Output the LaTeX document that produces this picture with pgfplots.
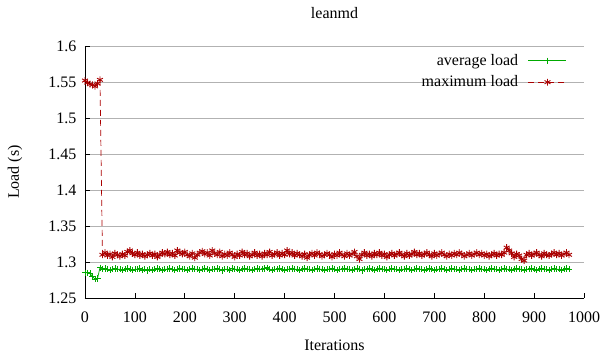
\documentclass[border=0pt]{standalone}
\usepackage{pgfplots}
\pgfplotsset{compat=1.18}
\usepackage{pgfplotstable}
\usetikzlibrary{calc}
\usepackage{fontspec}
\setmainfont{Liberation Serif}
\definecolor{gpgreen}{RGB}{0,170,0}
\definecolor{gpred}{RGB}{170,0,0}
\pgfplotstableread{
x avg max
0 1.285 1.552
5 1.285 1.549
10 1.284 1.547
15 1.280 1.546
20 1.276 1.544
25 1.277 1.548
30 1.292 1.553
35 1.290 1.310
40 1.291 1.313
45 1.290 1.309
50 1.289 1.311
55 1.290 1.307
60 1.291 1.312
65 1.290 1.310
70 1.290 1.308
75 1.289 1.311
80 1.290 1.309
85 1.291 1.314
90 1.290 1.316
95 1.289 1.312
100 1.290 1.310
105 1.290 1.313
110 1.291 1.309
115 1.289 1.311
120 1.290 1.308
125 1.288 1.310
130 1.290 1.312
135 1.289 1.309
140 1.290 1.311
145 1.291 1.307
150 1.290 1.310
155 1.289 1.313
160 1.290 1.311
165 1.290 1.314
170 1.291 1.310
175 1.290 1.312
180 1.289 1.309
185 1.290 1.316
190 1.291 1.313
195 1.290 1.311
200 1.290 1.314
205 1.289 1.310
210 1.290 1.308
215 1.291 1.312
220 1.290 1.306
225 1.290 1.310
230 1.289 1.313
235 1.290 1.315
240 1.291 1.311
245 1.290 1.313
250 1.289 1.309
255 1.290 1.316
260 1.290 1.312
265 1.291 1.310
270 1.290 1.314
275 1.288 1.308
280 1.290 1.311
285 1.290 1.309
290 1.289 1.313
295 1.291 1.310
300 1.290 1.307
305 1.290 1.311
310 1.289 1.309
315 1.290 1.314
320 1.291 1.310
325 1.290 1.312
330 1.290 1.308
335 1.289 1.310
340 1.290 1.313
345 1.291 1.309
350 1.290 1.311
355 1.290 1.308
360 1.291 1.312
365 1.292 1.310
370 1.290 1.314
375 1.289 1.309
380 1.290 1.311
385 1.290 1.313
390 1.291 1.309
395 1.290 1.312
400 1.289 1.310
405 1.290 1.316
410 1.290 1.311
415 1.291 1.313
420 1.290 1.309
425 1.290 1.312
430 1.289 1.310
435 1.290 1.308
440 1.291 1.311
445 1.290 1.306
450 1.290 1.310
455 1.289 1.312
460 1.290 1.309
465 1.291 1.313
470 1.290 1.311
475 1.290 1.308
480 1.289 1.310
485 1.290 1.312
490 1.290 1.310
495 1.291 1.307
500 1.290 1.311
505 1.289 1.309
510 1.290 1.313
515 1.290 1.310
520 1.291 1.308
525 1.290 1.312
530 1.290 1.309
535 1.289 1.311
540 1.290 1.314
545 1.291 1.308
550 1.290 1.304
555 1.288 1.310
560 1.290 1.313
565 1.290 1.309
570 1.291 1.311
575 1.290 1.308
580 1.289 1.312
585 1.290 1.310
590 1.291 1.313
595 1.290 1.309
600 1.290 1.311
605 1.289 1.307
610 1.290 1.310
615 1.291 1.312
620 1.290 1.309
625 1.290 1.311
630 1.289 1.313
635 1.290 1.310
640 1.290 1.308
645 1.291 1.312
650 1.290 1.309
655 1.289 1.311
660 1.290 1.314
665 1.291 1.310
670 1.290 1.312
675 1.290 1.309
680 1.289 1.311
685 1.290 1.313
690 1.291 1.310
695 1.290 1.308
700 1.289 1.312
705 1.290 1.309
710 1.290 1.311
715 1.291 1.313
720 1.290 1.310
725 1.289 1.308
730 1.290 1.311
735 1.291 1.309
740 1.290 1.312
745 1.290 1.310
750 1.289 1.313
755 1.290 1.311
760 1.291 1.308
765 1.290 1.310
770 1.290 1.312
775 1.289 1.309
780 1.290 1.311
785 1.290 1.313
790 1.291 1.310
795 1.290 1.312
800 1.290 1.309
805 1.289 1.311
810 1.290 1.308
815 1.291 1.310
820 1.290 1.312
825 1.290 1.309
830 1.289 1.311
835 1.290 1.310
840 1.291 1.313
845 1.290 1.320
850 1.290 1.316
855 1.289 1.312
860 1.290 1.307
865 1.291 1.311
870 1.290 1.309
875 1.290 1.304
880 1.289 1.302
885 1.290 1.310
890 1.290 1.312
895 1.291 1.309
900 1.290 1.311
905 1.289 1.313
910 1.290 1.310
915 1.291 1.308
920 1.290 1.312
925 1.290 1.310
930 1.289 1.309
935 1.290 1.311
940 1.291 1.313
945 1.290 1.310
950 1.290 1.312
955 1.289 1.309
960 1.290 1.311
965 1.291 1.313
970 1.290 1.310
}\loaddata
\begin{document}
\fontsize{16bp}{19bp}\selectfont
\begin{tikzpicture}
\begin{axis}[
  name=ax,
  scale only axis,
  width=499bp, height=252bp,
  xmin=0, xmax=1000, ymin=1.25, ymax=1.6,
  xtick={0,100,...,1000},
  ytick={1.25,1.3,...,1.6},
  yticklabels={1.25,1.3,1.35,1.4,1.45,1.5,1.55,1.6},
  /pgf/number format/1000 sep={},
  axis x line*=bottom, axis y line*=left,
  axis line style={black, line width=0.8pt, -},
  tick align=inside,
  major tick length=5bp,
  tick style={black, line width=0.8pt},
  ymajorgrids,
  grid style={gray!60, line width=0.8pt},
  /pgf/number format/assume math mode=true,
  tick label style={font=\fontsize{16bp}{19bp}\selectfont},
  xticklabel style={yshift=-8bp},
  yticklabel style={xshift=-3bp},
  label style={font=\fontsize{16bp}{19bp}\selectfont},
  title style={font=\fontsize{16bp}{19bp}\selectfont, at={(axis description cs:0.5,1)}, anchor=center, yshift=27bp},
  xlabel style={at={(axis description cs:0.5,0)}, anchor=center, yshift=-47bp},
  ylabel style={at={(axis description cs:0,0.5)}, anchor=center, yshift=70bp},
  title={leanmd},
  xlabel={Iterations},
  ylabel={Load (s)},
  legend style={draw=none, fill=none, at={(0.972,0.985)}, anchor=north east,
    font=\fontsize{16bp}{19bp}\selectfont, row sep=4bp,
    nodes={inner xsep=5bp},
    /tikz/every odd column/.append style={column sep=5bp}},
  legend cell align=right,
  legend plot pos=right,
  legend image code/.code={\draw[mark repeat=2,mark phase=2,#1] plot coordinates {(0bp,0bp) (19bp,0bp) (38bp,0bp)};},
  clip=false,
]
\addplot[gpgreen, line width=0.7pt, mark=+, mark size=3.2bp, mark options={solid, line width=0.8pt}] table[x=x,y=avg] {\loaddata};
\addlegendentry{average load}
\addplot[gpred, line width=0.7pt, dash pattern=on 6bp off 4bp, mark=asterisk, mark size=3.4bp, mark options={solid, line width=0.9pt}] table[x=x,y=max] {\loaddata};
\addlegendentry{maximum load}
\coordinate (o) at (rel axis cs:0,0);
\end{axis}
\pgfresetboundingbox
\path[use as bounding box] ($(o)+(-85bp,-56bp)$) rectangle ++(603bp,354bp);
\end{tikzpicture}
\end{document}
